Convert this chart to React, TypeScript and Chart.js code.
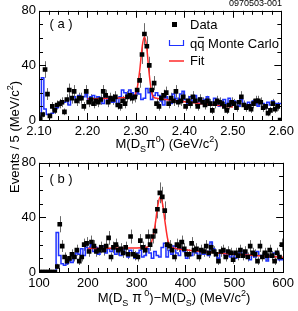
import React, { useEffect, useRef } from 'react';
import { Chart, registerables } from 'chart.js';
Chart.register(...registerables);

const FONT = '"Liberation Sans", Arial, Helvetica, sans-serif';

// ---------- Panel (a): M(Ds pi0), 5 MeV bins from 2.10 GeV ----------
const aBinStart = 2.1;
const aBinWidth = 0.005;
const aData = [
  1, 4, 37, 19, 3, 10, 7, 11, 12, 13,
  6, 15, 22, 16, 21, 14, 16, 16, 10, 21,
  13, 15, 12, 14, 13, 15, 21, 18, 13, 16,
  15, 17, 11, 10, 14, 12, 17, 18, 16, 17,
  22, 29, 48, 63, 54, 40, 22, 27, 12, 10,
  16, 18, 20, 12, 16, 14, 21, 13, 14, 17,
  10, 14, 12, 17, 14, 10, 15, 13, 11, 14,
  12, 7, 12, 14, 13, 12, 10, 7, 11, 13,
  12, 9, 13, 17, 11, 9, 10, 8, 12, 14,
  14, 13, 9, 10, 5, 7, 12, 8, 10, 0,
];
const aMC = [
  1, 3, 31, 8, 4, 4, 5, 7, 9, 11,
  12, 13, 15, 11, 17, 17, 14, 18, 16, 17,
  19, 15, 17, 18, 14, 17, 16, 12, 18, 15,
  17, 13, 16, 11, 17, 22, 20, 16, 22, 20,
  17, 20, 19, 15, 16, 23, 20, 15, 18, 20,
  18, 14, 11, 17, 15, 12, 19, 16, 13, 19,
  21, 15, 12, 17, 14, 18, 13, 16, 12, 15,
  17, 13, 11, 16, 14, 10, 13, 15, 12, 16,
  11, 14, 13, 10, 15, 12, 9, 13, 11, 14,
  12, 10, 13, 12, 9, 13, 11, 14, 12, 12,
];
const aFitX = [2.2, 2.22, 2.24, 2.26, 2.28, 2.29, 2.295, 2.299, 2.303, 2.308, 2.313, 2.3175, 2.322, 2.327, 2.332, 2.337, 2.345, 2.36, 2.38, 2.4, 2.42, 2.44, 2.46, 2.48, 2.5];
const aFitY = [15.5, 15.6, 15.8, 16.0, 16.4, 16.7, 17.2, 19, 24, 37, 54, 61, 54, 35, 21, 16.6, 15.8, 15.0, 14.2, 13.4, 12.6, 11.8, 11.0, 10.3, 9.6];
const aTickMin = 2.1;
const aTickMax = 2.6;

// ---------- Panel (b): M(Ds pi0) - M(Ds), 5 MeV bins from 100 MeV ----------
const bBinStart = 100;
const bBinWidth = 5;
const bData = [
  0, 0, 0, 0, 0, 0, 0, 4, 35, 19,
  11, 8, 10, 13, 11, 16, 8, 11, 20, 21,
  15, 22, 19, 15, 16, 18, 16, 19, 25, 11,
  18, 20, 16, 17, 14, 18, 13, 26, 13, 12,
  11, 23, 18, 16, 26, 20, 26, 30, 46, 58,
  55, 45, 20, 19, 16, 11, 20, 19, 22, 17,
  13, 13, 21, 16, 17, 11, 16, 15, 19, 14,
  18, 15, 13, 8, 15, 16, 11, 15, 14, 9,
  14, 12, 16, 12, 15, 11, 19, 14, 13, 8,
  19, 11, 14, 12, 16, 12, 8, 14, 11, 20,
];
const bMC = [
  0, 0, 0, 0, 0, 0, 0, 0, 29, 12,
  6, 5, 6, 8, 7, 10, 14, 13, 17, 12,
  18, 16, 20, 15, 18, 13, 17, 19, 14, 17,
  15, 19, 13, 16, 12, 17, 14, 11, 16, 13,
  10, 14, 16, 11, 12, 17, 14, 10, 15, 12,
  11, 18, 21, 11, 16, 13, 19, 14, 12, 17,
  15, 10, 14, 12, 17, 14, 11, 16, 13, 15,
  12, 22, 17, 13, 10, 14, 16, 12, 15, 11,
  14, 10, 13, 16, 11, 14, 12, 9, 13, 11,
  15, 12, 10, 13, 8, 12, 11, 14, 13, 9,
];
const bFitX = [200, 240, 280, 310, 322, 328, 333, 338, 343, 348, 353, 358, 363, 368, 375, 400, 450, 500, 550, 600];
const bFitY = [17.3, 17.4, 17.5, 17.7, 18.3, 20, 25, 35, 48, 55, 50, 37, 25, 19, 17.6, 16.3, 14.4, 13, 11.9, 10.8];
const bTickMin = 100;
const bTickMax = 600;

const yMin = 0;
const yMax = 80;

const BLUE = '#1f32ff';
const RED = '#ff2a2a';

type Seg = { t: string; k?: 'sub' | 'sup' | 'bar' | 'big' };

function drawRich(ctx: CanvasRenderingContext2D, segs: Seg[], x: number, y: number, size: number, align: 'center' | 'left') {
  const small = Math.round(size * 0.7);
  const fontFor = (s: Seg) =>
    `${s.k === 'sub' || s.k === 'sup' ? small : s.k === 'big' ? size + 1 : size}px ${FONT}`;
  let total = 0;
  const widths = segs.map((s) => {
    ctx.font = fontFor(s);
    const w = ctx.measureText(s.t).width;
    total += w;
    return w;
  });
  let cx = align === 'center' ? x - total / 2 : x;
  ctx.textAlign = 'left';
  ctx.textBaseline = 'alphabetic';
  segs.forEach((s, i) => {
    ctx.font = fontFor(s);
    const dy = s.k === 'sub' ? size * 0.3 : s.k === 'sup' ? -size * 0.45 : 0;
    ctx.fillText(s.t, cx, y + dy);
    if (s.k === 'bar') {
      ctx.beginPath();
      ctx.moveTo(cx + 0.5, y - size * 0.78);
      ctx.lineTo(cx + widths[i] - 0.5, y - size * 0.78);
      ctx.lineWidth = 1;
      ctx.strokeStyle = '#000';
      ctx.stroke();
    }
    cx += widths[i];
  });
}

type PanelSpec = {
  data: number[];
  mc: number[];
  binStart: number;
  binWidth: number;
  fitX: number[];
  fitY: number[];
  min: number;
  max: number;
  step: number;
  minorStep: number;
  decimals: number;
  padTop: number;
  padBottom: number;
  offsetY: number; // page y of canvas top
  draw: (ctx: CanvasRenderingContext2D, oy: number) => void;
};

function buildConfig(p: PanelSpec): any {
  const points = p.data.map((v, i) => ({ x: p.binStart + p.binWidth * (i + 0.5), y: v }));
  const edges = p.mc.map((v, i) => ({ x: p.binStart + p.binWidth * i, y: v }));
  edges.push({ x: p.binStart + p.binWidth * p.mc.length, y: p.mc[p.mc.length - 1] });
  const fit = p.fitX.map((x, i) => ({ x, y: p.fitY[i] }));

  const errorPlugin = {
    id: 'errbars',
    beforeDatasetsDraw(chart: any) {
      const ctx = chart.ctx;
      const xs = chart.scales.x;
      const ys = chart.scales.y;
      const a = chart.chartArea;
      ctx.save();
      ctx.beginPath();
      ctx.rect(a.left, a.top, a.right - a.left, a.bottom - a.top);
      ctx.clip();
      ctx.strokeStyle = '#6a6a6a';
      ctx.lineWidth = 1;
      points.forEach((pt) => {
        if (pt.y <= 0) return;
        const e = Math.sqrt(pt.y);
        const px = Math.round(xs.getPixelForValue(pt.x)) + 0.5;
        ctx.beginPath();
        ctx.moveTo(px, ys.getPixelForValue(pt.y - e));
        ctx.lineTo(px, ys.getPixelForValue(pt.y + e));
        ctx.stroke();
      });
      ctx.restore();
    },
  };

  const framePlugin = {
    id: 'frame',
    afterDatasetsDraw(chart: any) {
      const ctx = chart.ctx;
      const xs = chart.scales.x;
      const ys = chart.scales.y;
      const a = chart.chartArea;
      ctx.save();
      ctx.strokeStyle = '#000';
      ctx.lineWidth = 1;
      ctx.strokeRect(Math.round(a.left) + 0.5, Math.round(a.top) + 0.5, Math.round(a.right - a.left), Math.round(a.bottom - a.top));
      ctx.beginPath();
      const nx = Math.round((p.max - p.min) / p.minorStep);
      const perMajor = Math.round(p.step / p.minorStep);
      for (let k = 0; k <= nx; k++) {
        const px = Math.round(xs.getPixelForValue(p.min + k * p.minorStep)) + 0.5;
        const len = k % perMajor === 0 ? 7 : 4;
        ctx.moveTo(px, a.bottom);
        ctx.lineTo(px, a.bottom - len);
        ctx.moveTo(px, a.top);
        ctx.lineTo(px, a.top + len);
      }
      for (let k = 0; k <= 8; k++) {
        const py = Math.round(ys.getPixelForValue(yMin + k * 10)) + 0.5;
        const len = k % 4 === 0 ? 7 : 4;
        ctx.moveTo(a.left, py);
        ctx.lineTo(a.left + len, py);
        ctx.moveTo(a.right, py);
        ctx.lineTo(a.right - len, py);
      }
      ctx.stroke();
      ctx.restore();
    },
    afterDraw(chart: any) {
      const ctx = chart.ctx;
      ctx.save();
      ctx.fillStyle = '#000';
      p.draw(ctx, p.offsetY);
      ctx.restore();
    },
  };

  const tickFont = { family: FONT, size: 13 };
  return {
    type: 'scatter',
    data: {
      datasets: [
        {
          label: 'Data',
          data: points,
          pointStyle: 'rect',
          pointRadius: 3.3,
          backgroundColor: '#000',
          borderColor: '#000',
          borderWidth: 0,
          showLine: false,
        },
        {
          label: 'Fit',
          data: fit,
          showLine: true,
          borderColor: RED,
          borderWidth: 1.5,
          pointRadius: 0,
          cubicInterpolationMode: 'monotone',
        },
        {
          label: 'qq Monte Carlo',
          data: edges,
          showLine: true,
          stepped: 'after',
          borderColor: BLUE,
          borderWidth: 1.5,
          pointRadius: 0,
        },
      ],
    },
    options: {
      animation: false,
      responsive: false,
      events: [],
      layout: { padding: { left: 0, right: 13, top: p.padTop, bottom: p.padBottom } },
      plugins: { legend: { display: false }, tooltip: { enabled: false } },
      scales: {
        x: {
          type: 'linear',
          min: p.min,
          max: p.max,
          grid: { display: false, drawTicks: false },
          border: { display: false },
          ticks: {
            stepSize: p.step,
            autoSkip: false,
            maxRotation: 0,
            padding: 4,
            color: '#000',
            font: tickFont,
            callback: (v: number) => Number(v).toFixed(p.decimals),
          },
          afterFit: (s: any) => {
            s.height = 32;
          },
        },
        y: {
          min: yMin,
          max: yMax,
          grid: { display: false, drawTicks: false },
          border: { display: false },
          ticks: { stepSize: 40, padding: 3, color: '#000', font: tickFont },
          afterFit: (s: any) => {
            s.width = 39;
          },
        },
      },
    },
    plugins: [errorPlugin, framePlugin],
  };
}

const topOffset = 0;
const botOffset = 152;

function drawTop(ctx: CanvasRenderingContext2D, oy: number) {
  // run number
  ctx.font = `9px ${FONT}`;
  ctx.textAlign = 'right';
  ctx.textBaseline = 'alphabetic';
  ctx.fillText('0970503-001', 282, 6 - oy);
  // panel label
  ctx.font = `13px ${FONT}`;
  ctx.textAlign = 'center';
  ctx.textBaseline = 'middle';
  ctx.fillText('( a )', 61, 24 - oy);
  // legend
  ctx.fillRect(172, 22 - oy, 5, 5);
  ctx.textAlign = 'left';
  ctx.fillText('Data', 190, 25 - oy);
  ctx.strokeStyle = BLUE;
  ctx.lineWidth = 1.2;
  ctx.beginPath();
  ctx.moveTo(169.5, 40 - oy);
  ctx.lineTo(169.5, 45.5 - oy);
  ctx.lineTo(183.5, 45.5 - oy);
  ctx.lineTo(183.5, 40 - oy);
  ctx.stroke();
  drawRich(ctx, [{ t: 'q' }, { t: 'q', k: 'bar' }, { t: ' Monte Carlo' }], 190, 47.5 - oy, 13, 'left');
  ctx.strokeStyle = RED;
  ctx.lineWidth = 1.5;
  ctx.beginPath();
  ctx.moveTo(169, 61 - oy);
  ctx.lineTo(184, 61 - oy);
  ctx.stroke();
  ctx.textBaseline = 'middle';
  ctx.font = `13px ${FONT}`;
  ctx.fillText('Fit', 190, 61 - oy);
  // x title
  drawRich(
    ctx,
    [{ t: 'M(D' }, { t: 'S', k: 'sub' }, { t: 'π', k: 'big' }, { t: '0', k: 'sup' }, { t: ') (GeV/c' }, { t: '2', k: 'sup' }, { t: ')' }],
    167,
    148 - oy,
    13,
    'center'
  );
  // y title (shared by both panels)
  ctx.save();
  ctx.translate(19, 137 - oy);
  ctx.rotate(-Math.PI / 2);
  drawRich(ctx, [{ t: 'Events / 5 (MeV/c' }, { t: '2', k: 'sup' }, { t: ')' }], 0, 0, 13, 'center');
  ctx.restore();
}

function drawBottom(ctx: CanvasRenderingContext2D, oy: number) {
  ctx.font = `13px ${FONT}`;
  ctx.textAlign = 'center';
  ctx.textBaseline = 'middle';
  ctx.fillText('( b )', 61, 179 - oy);
  drawRich(
    ctx,
    [
      { t: 'M(D' },
      { t: 'S', k: 'sub' },
      { t: ' π', k: 'big' },
      { t: ' 0', k: 'sup' },
      { t: ')−M(D' },
      { t: 'S', k: 'sub' },
      { t: ') (MeV/c' },
      { t: '2', k: 'sup' },
      { t: ')' },
    ],
    174,
    302 - oy,
    13,
    'center'
  );
}

export default function App() {
  const topRef = useRef<HTMLCanvasElement>(null);
  const botRef = useRef<HTMLCanvasElement>(null);

  useEffect(() => {
    const specA: PanelSpec = {
      data: aData,
      mc: aMC,
      binStart: aBinStart,
      binWidth: aBinWidth,
      fitX: aFitX,
      fitY: aFitY,
      min: aTickMin,
      max: aTickMax,
      step: 0.1,
      minorStep: 0.02,
      decimals: 2,
      padTop: 7,
      padBottom: 311 - 120 - 32,
      offsetY: topOffset,
      draw: drawTop,
    };
    const specB: PanelSpec = {
      data: bData,
      mc: bMC,
      binStart: bBinStart,
      binWidth: bBinWidth,
      fitX: bFitX,
      fitY: bFitY,
      min: bTickMin,
      max: bTickMax,
      step: 100,
      minorStep: 20,
      decimals: 0,
      padTop: 158 - botOffset,
      padBottom: 159 - 120 - 32,
      offsetY: botOffset,
      draw: drawBottom,
    };
    const c1 = new Chart(topRef.current!, buildConfig(specA));
    const c2 = new Chart(botRef.current!, buildConfig(specB));
    return () => {
      c1.destroy();
      c2.destroy();
    };
  }, []);

  return (
    <div style={{ position: 'fixed', left: 0, top: 0, width: 298, height: 311, background: '#fff', overflow: 'hidden' }}>
      <canvas ref={topRef} width={298} height={311} style={{ position: 'absolute', left: 0, top: 0, display: 'block' }} />
      <canvas ref={botRef} width={298} height={159} style={{ position: 'absolute', left: 0, top: botOffset, display: 'block' }} />
    </div>
  );
}
